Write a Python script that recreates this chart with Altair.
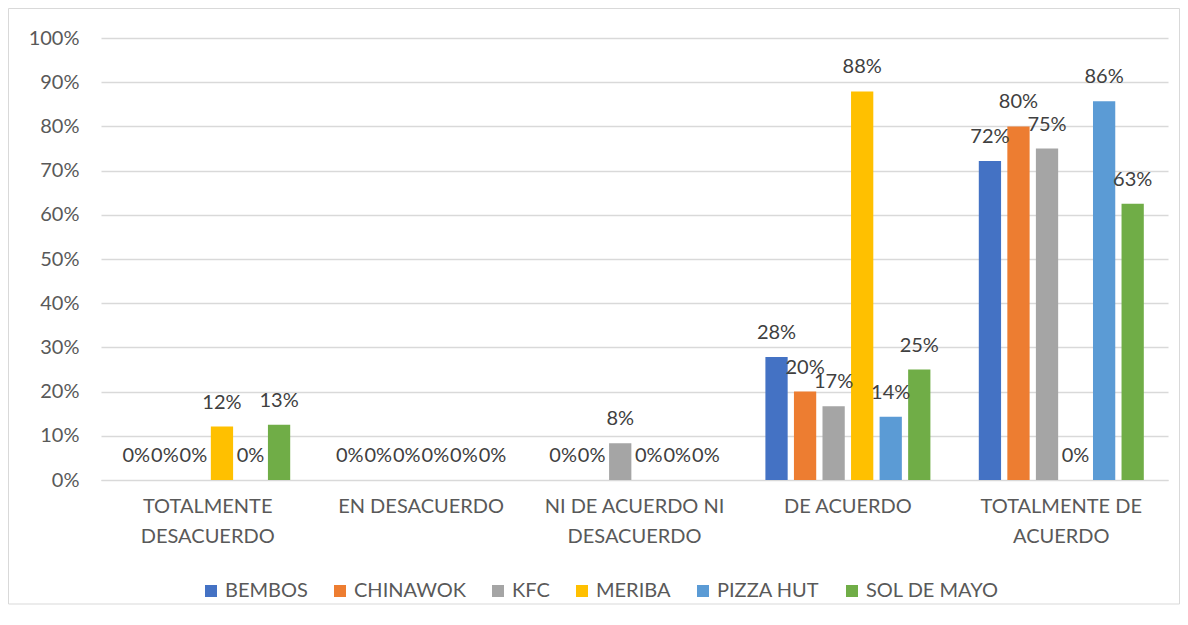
import altair as alt
import pandas as pd

categories = ["TOTALMENTE DESACUERDO", "EN DESACUERDO", "NI DE ACUERDO NI DESACUERDO",
              "DE ACUERDO", "TOTALMENTE DE ACUERDO"]
category_lines = [["TOTALMENTE", "DESACUERDO"], ["EN DESACUERDO"],
                  ["NI DE ACUERDO NI", "DESACUERDO"], ["DE ACUERDO"],
                  ["TOTALMENTE DE", "ACUERDO"]]
series = ["BEMBOS", "CHINAWOK", "KFC", "MERIBA", "PIZZA HUT", "SOL DE MAYO"]
colors = ["#4472C4", "#ED7D31", "#A5A5A5", "#FFC000", "#5B9BD5", "#70AD47"]

bembos = [0.0, 0.0, 0.0, 0.278, 0.722]
chinawok = [0.0, 0.0, 0.0, 0.200, 0.800]
kfc = [0.0, 0.0, 0.083, 0.167, 0.750]
meriba = [0.121, 0.0, 0.0, 0.879, 0.0]
pizza_hut = [0.0, 0.0, 0.0, 0.143, 0.857]
sol_de_mayo = [0.125, 0.0, 0.0, 0.250, 0.625]

all_values = [bembos, chinawok, kfc, meriba, pizza_hut, sol_de_mayo]
rows = []
for s, vals in zip(series, all_values):
    for c, v in zip(categories, vals):
        rows.append({"categoria": c, "serie": s, "valor": v})
df = pd.DataFrame(rows)

FONT = "Lato"

# build multi-line label expression
expr = "datum.label"
for c, lines in reversed(list(zip(categories, category_lines))):
    arr = "[" + ",".join("'" + l + "'" for l in lines) + "]"
    expr = f"datum.label == '{c}' ? {arr} : ({expr})"

x_enc = alt.X("categoria:N", sort=categories, title=None,
              scale=alt.Scale(paddingInner=0.2, paddingOuter=0.1),
              axis=alt.Axis(labelExpr=expr, labelAngle=0, labelFontSize=20,
                            labelFont=FONT, labelColor="#595959", labelPadding=16,
                            labelLineHeight=30, ticks=False, domainColor="#D9D9D9",
                            labelLimit=300))
xoff_enc = alt.XOffset("serie:N", sort=series,
                       scale=alt.Scale(paddingInner=0.22, paddingOuter=0.1))
y_enc = alt.Y("valor:Q", title=None,
              scale=alt.Scale(domain=[0, 1], nice=False),
              axis=alt.Axis(values=[i / 10 for i in range(11)], format=".0%",
                            labelFontSize=20, labelFont=FONT, labelColor="#595959",
                            labelPadding=22, ticks=False, domain=False,
                            gridColor="#D9D9D9", gridWidth=1.3))

base = alt.Chart(df)
bars = base.mark_bar().encode(
    x=x_enc, xOffset=xoff_enc, y=y_enc,
    color=alt.Color("serie:N", sort=series,
                    scale=alt.Scale(domain=series, range=colors),
                    legend=alt.Legend(title=None, orient="none", direction="horizontal",
                                      legendX=100, legendY=543, symbolType="square",
                                      symbolSize=144, symbolStrokeWidth=0,
                                      labelFontSize=20, labelFont=FONT,
                                      labelColor="#595959", labelOffset=4,
                                      columnPadding=22, labelLimit=300)),
)
labels = base.mark_text(baseline="alphabetic", dy=-18, fontSize=20, font=FONT,
                        color="#404040").encode(
    x=x_enc, xOffset=xoff_enc, y=y_enc,
    text=alt.Text("valor:Q", format=".0%"),
)

frame = alt.Chart(pd.DataFrame({"k": [0]})).mark_rect(
    fillOpacity=0, stroke="#D9D9D9", strokeWidth=1
).encode(x=alt.value(-92.5), x2=alt.value(1078.5), y=alt.value(-29.5), y2=alt.value(566))

chart = alt.layer(frame, bars, labels).properties(
    width=1067, height=442,
    padding={"left": 93, "top": 30, "right": 12, "bottom": 125},
    autosize=alt.AutoSizeParams(type="none"),
).configure_view(stroke=None)

chart.save("out.html", embed_options={"renderer": "svg", "actions": False})
